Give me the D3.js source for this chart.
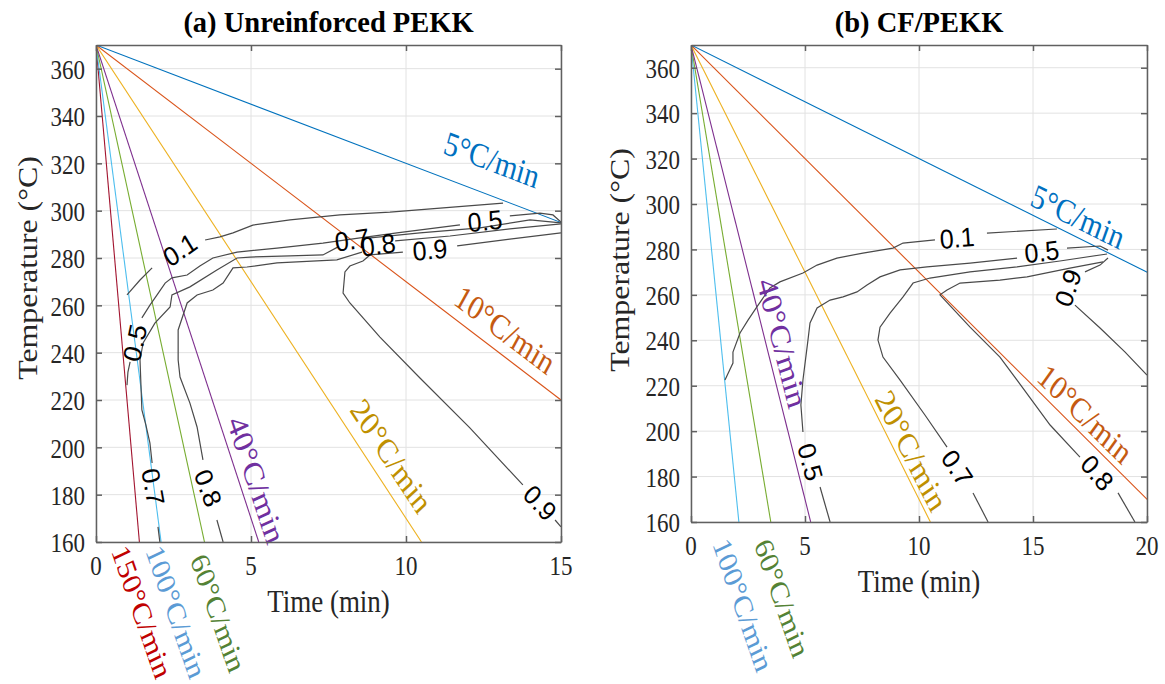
<!DOCTYPE html>
<html><head><meta charset="utf-8">
<script src="https://cdn.jsdelivr.net/npm/d3@7"></script>
<style>body{margin:0;background:#fff}</style>
</head><body><svg id="c" width="1165" height="684"></svg>
<script>
// ---------------- data ----------------
const T0 = 370;             // start temperature of every cooling ramp (°C)
const ratesA = [150, 100, 60, 40, 20, 10, 5];   // °C/min, panel (a)
const ratesB = [100, 60, 40, 20, 10, 5];        // °C/min, panel (b)
const xTicksA = [0, 5, 10, 15];
const xTicksB = [0, 5, 10, 15, 20];
const yTicks = [160, 180, 200, 220, 240, 260, 280, 300, 320, 340, 360];

// contour lines of relative crystallinity: segments of [time (min), temperature (°C)]
const cA01 = [
  [[1.0,264.4],[1.42,270.7],[1.81,275.8]],
  [[3.52,287.6],[4.0,288.9],[4.42,290.6],[5.06,293.9],[6.26,296.1],[7.87,298.2],[9.48,299.4],[11.1,301.1],[13.13,303.2]]
];
const cA05 = [
  [[1.0,226.3],[1.03,231.8],[1.1,236.1]],
  [[1.48,254.7],[1.74,260.1],[1.97,264.4],[2.23,269.4],[2.45,271.6],[2.94,272.8],[3.35,276.6],[3.77,280.0],[4.55,282.5],[5.84,284.2],[7.32,286.3],[8.52,288.5],[9.71,290.6],[11.74,294.0]],
  [[13.35,297.8],[14.32,299.0],[14.74,298.2],[15,295.2]]
];
const cA07 = [
  [[2.06,160],[2.0,166.4]],
  [[1.81,193.4],[1.74,201.8],[1.61,209.4],[1.48,215.8],[1.45,226.3],[1.42,236.9],[1.52,244.1],[1.90,252.5],[2.39,259.3],[2.45,264.4],[3.03,267.8],[3.90,274.9],[4.55,280.0],[4.97,280.4],[6.26,280.9],[7.32,281.3],[7.81,284.7]],
  [[8.77,288.4],[10.45,290.6],[12.39,292.7],[14.0,296.1],[15,294.8]]
];
const cA08 = [
  [[4.10,160],[3.90,169.3]],
  [[3.45,194.7],[3.26,208.6],[3.03,218.7],[2.71,229.7],[2.65,236.9],[2.65,249.6],[2.94,261.0],[3.26,264.4],[3.77,266.5],[4.10,269.4],[4.42,275.8],[4.87,276.2],[5.84,277.9],[7.77,279.2],[8.58,282.5]],
  [[9.65,287.2],[11.42,289.3],[13.35,292.3],[15,294.4]]
];
const cA09 = [
  [[15,290.6],[13.35,288.0],[11.65,285.1]],
  [[9.90,282.5],[8.84,281.3],[8.61,278.7],[8.19,276.6],[8.03,274.1],[7.97,265.2],[8.19,261.0],[9.16,246.6],[10.45,229.3],[12.06,208.2],[13.77,184.1]],
  [[14.81,169.3],[15,166.4]]
];
const labelsA = [
  {s:'0.1', t:2.71, T:283.4, r:-35},
  {s:'0.5', t:1.26, T:244.1, r:-78},
  {s:'0.7', t:8.26, T:287.6, r:-8},
  {s:'0.8', t:9.10, T:285.5, r:-8},
  {s:'0.5', t:12.55, T:295.6, r:-6},
  {s:'0.9', t:10.77, T:283.4, r:-6},
  {s:'0.7', t:1.84, T:183.3, r:80},
  {s:'0.8', t:3.61, T:182.8, r:70},
  {s:'0.9', t:14.32, T:176.5, r:48}
];

const cB01 = [
  [[1.49,222.5],[1.84,230.0],[1.84,234.8],[2.15,243.2],[2.50,248.9],[2.89,254.7],[3.46,263.0],[3.90,265.7],[4.91,269.6],[5.53,273.1],[6.40,276.2],[7.54,278.4],[8.86,280.6],[9.30,282.8],[10.70,284.2]],
  [[12.98,287.2],[16.05,289.0]]
];
const cB05 = [
  [[6.10,160],[5.66,175.4]],
  [[4.91,199.6],[4.82,211.5],[4.91,222.5],[5.13,240.1],[5.22,247.6],[5.53,254.2],[6.10,257.7],[6.67,259.1],[7.28,261.3],[7.72,264.3],[8.29,267.9],[9.17,271.0],[10.35,272.3],[12.24,274.0],[14.30,276.2]],
  [[16.49,280.6],[17.94,281.5],[18.29,279.7]]
];
const cB07 = [
  [[13.03,160],[12.37,172.8]],
  [[11.23,193.0],[10.26,207.1],[9.17,222.5],[8.42,232.6],[8.20,240.1],[8.29,245.8],[8.73,252.0],[9.30,259.1],[9.74,265.2],[10.48,267.4],[12.24,270.1],[14.30,272.3],[16.18,274.9],[18.25,278.0]]
];
const cB08 = [
  [[19.47,160],[18.73,172.8]],
  [[17.06,188.6],[15.75,202.7],[14.30,222.5],[13.55,232.6],[12.24,245.8],[10.92,260.0],[11.23,262.1],[11.80,265.2],[13.55,266.5],[14.74,267.9],[16.62,271.8],[18.07,274.5]]
];
const cB09 = [
  [[18.29,276.2],[17.94,273.1],[17.28,270.1]],
  [[16.84,255.5],[17.94,245.4],[19.04,234.8],[20,224.7]]
];
const labelsB = [
  {s:'0.1', t:11.67, T:285.0, r:-5},
  {s:'0.5', t:15.39, T:278.9, r:-7},
  {s:'0.9', t:16.54, T:263.0, r:-72},
  {s:'0.5', t:5.22, T:186.4, r:75},
  {s:'0.7', t:11.67, T:183.8, r:57},
  {s:'0.8', t:17.81, T:181.6, r:50}
];

// where each cooling-rate caption sits (data coordinates)
const rateLabelsA = [
  {r:5, t:12.77, T:321.4}, {r:10, t:13.19, T:249.6}, {r:20, t:9.52, T:196.3}, {r:40, t:5.16, T:186.2},
  {r:150, t:1.48, T:130.5, below:true}, {r:100, t:2.58, T:130.5, below:true}, {r:60, t:3.94, T:130.0, below:true}
];
const rateLabelsB = [
  {r:5, t:16.97, T:294.3}, {r:10, t:17.28, T:207.5}, {r:20, t:9.65, T:191.3}, {r:40, t:3.99, T:238.8},
  {r:100, t:2.28, T:123.5, below:true}, {r:60, t:3.99, T:126.5, below:true}
];

// ---------------- styles ----------------
const lineColor = {5:'#0072BD', 10:'#D95319', 20:'#EDB120', 40:'#7E2F8E', 60:'#77AC30', 100:'#4DBEEE', 150:'#A2142F'};
const textColor = {5:'#0070C0', 10:'#C55A11', 20:'#BF9000', 40:'#7030A0', 60:'#548235', 100:'#5B9BD5', 150:'#C00000'};
const serif = "'Liberation Serif','Times New Roman',serif";
const sans = "'Liberation Sans',Arial,sans-serif";
const KY = 1.18;

const svg = d3.select('#c');
const defs = svg.append('defs');

function label(g, x, y, s, o) {
  const ky = o.ky ?? KY, rot = o.rot || 0;
  const rr = rot * Math.PI / 180;
  const r2 = Math.atan2(Math.sin(rr) / ky, Math.cos(rr)) * 180 / Math.PI;
  return g.append('text')
    .attr('transform', `translate(${x},${y}) scale(1,${ky}) rotate(${r2})`)
    .attr('text-anchor', o.anchor || 'middle')
    .attr('dominant-baseline', o.base || 'auto')
    .style('font-family', o.family || serif)
    .style('font-size', o.size + 'px')
    .style('font-weight', o.weight || 'normal')
    .attr('fill', o.fill || '#262626')
    .text(s);
}

function panel(cfg) {
  const x = d3.scaleLinear().domain([0, cfg.tmax]).range([cfg.left, cfg.right]);
  const y = d3.scaleLinear().domain([160, 370]).range([cfg.bottom, cfg.top]);
  const g = svg.append('g');
  const clip = 'clip-' + cfg.id;
  defs.append('clipPath').attr('id', clip).append('rect')
    .attr('x', cfg.left).attr('y', cfg.top).attr('width', cfg.right - cfg.left).attr('height', cfg.bottom - cfg.top);

  // grid
  g.append('g').selectAll('line').data(cfg.xTicks).join('line')
    .attr('x1', d => x(d)).attr('x2', d => x(d)).attr('y1', cfg.top).attr('y2', cfg.bottom)
    .attr('stroke', '#e2e2e2').attr('stroke-width', 1);
  g.append('g').selectAll('line').data(yTicks).join('line')
    .attr('y1', d => y(d)).attr('y2', d => y(d)).attr('x1', cfg.left).attr('x2', cfg.right)
    .attr('stroke', '#e2e2e2').attr('stroke-width', 1);

  const plot = g.append('g').attr('clip-path', `url(#${clip})`);
  // cooling ramps
  plot.selectAll('line.rate').data(cfg.rates).join('line').attr('class', 'rate')
    .attr('x1', x(0)).attr('y1', y(T0))
    .attr('x2', d => x((T0 - 160) / d)).attr('y2', y(160))
    .attr('stroke', d => lineColor[d]).attr('stroke-width', 1.1);

  // contours
  const ln = d3.line().x(d => x(d[0])).y(d => y(d[1]));
  cfg.contours.forEach(c => {
    plot.selectAll(null).data(c).join('path')
      .attr('d', ln).attr('fill', 'none').attr('stroke', '#4a4a4a').attr('stroke-width', 1.2);
  });
  cfg.clabels.forEach(l => {
    label(g, x(l.t), y(l.T), l.s, {size: 25, family: sans, fill: '#000', rot: l.r, base: 'central', ky: 1.08});
  });

  // rate captions
  cfg.rlabels.forEach(l => {
    const ang = l.below ? 71 : Math.atan2(y(T0 - l.r) - y(T0), x(1) - x(0)) * 180 / Math.PI;
    label(g, x(l.t), y(l.T), l.r + '°C/min', {size: l.below ? 27 : 29, fill: textColor[l.r], rot: ang, base: 'central'});
  });

  // axes (inward ticks on all four sides)
  const ax = [
    g.append('g').attr('transform', `translate(0,${cfg.bottom})`).call(d3.axisBottom(x).tickValues(cfg.xTicks).tickSizeInner(-6).tickSizeOuter(0).tickFormat('')),
    g.append('g').attr('transform', `translate(0,${cfg.top})`).call(d3.axisTop(x).tickValues(cfg.xTicks).tickSizeInner(-6).tickSizeOuter(0).tickFormat('')),
    g.append('g').attr('transform', `translate(${cfg.left},0)`).call(d3.axisLeft(y).tickValues(yTicks).tickSizeInner(-6).tickSizeOuter(0).tickFormat('')),
    g.append('g').attr('transform', `translate(${cfg.right},0)`).call(d3.axisRight(y).tickValues(yTicks).tickSizeInner(-6).tickSizeOuter(0).tickFormat(''))
  ];
  ax.forEach(a => { a.selectAll('path,line').attr('stroke', '#606060').attr('stroke-width', 1.5); });

  // tick labels
  cfg.xTicks.forEach(v => label(g, x(v), cfg.bottom + 33, String(v), {size: 23}));
  yTicks.forEach(v => label(g, cfg.left - 11, y(v) + 1, String(v), {size: 23, anchor: 'end', base: 'central'}));

  // axis titles
  label(g, (cfg.left + cfg.right) / 2, cfg.bottom + 70, 'Time (min)', {size: 27});
  label(g, cfg.ylabX, cfg.ylabY, 'Temperature (°C)', {size: 27, rot: -90, base: 'central'});
  // panel title
  label(g, (cfg.left + cfg.right) / 2, 32, cfg.title, {size: 28.5, weight: 'bold', fill: '#000', ky: 1.0});
}

panel({id:'a', title:'(a) Unreinforced PEKK', left:96, right:561, top:45, bottom:542, tmax:15, xTicks:xTicksA,
  rates:ratesA, contours:[cA01, cA05, cA07, cA08, cA09], clabels:labelsA, rlabels:rateLabelsA, ylabX:28, ylabY:268});
panel({id:'b', title:'(b) CF/PEKK', left:691, right:1147, top:45, bottom:522, tmax:20, xTicks:xTicksB,
  rates:ratesB, contours:[cB01, cB05, cB07, cB08, cB09], clabels:labelsB, rlabels:rateLabelsB, ylabX:620, ylabY:260});
</script>
</body></html>
